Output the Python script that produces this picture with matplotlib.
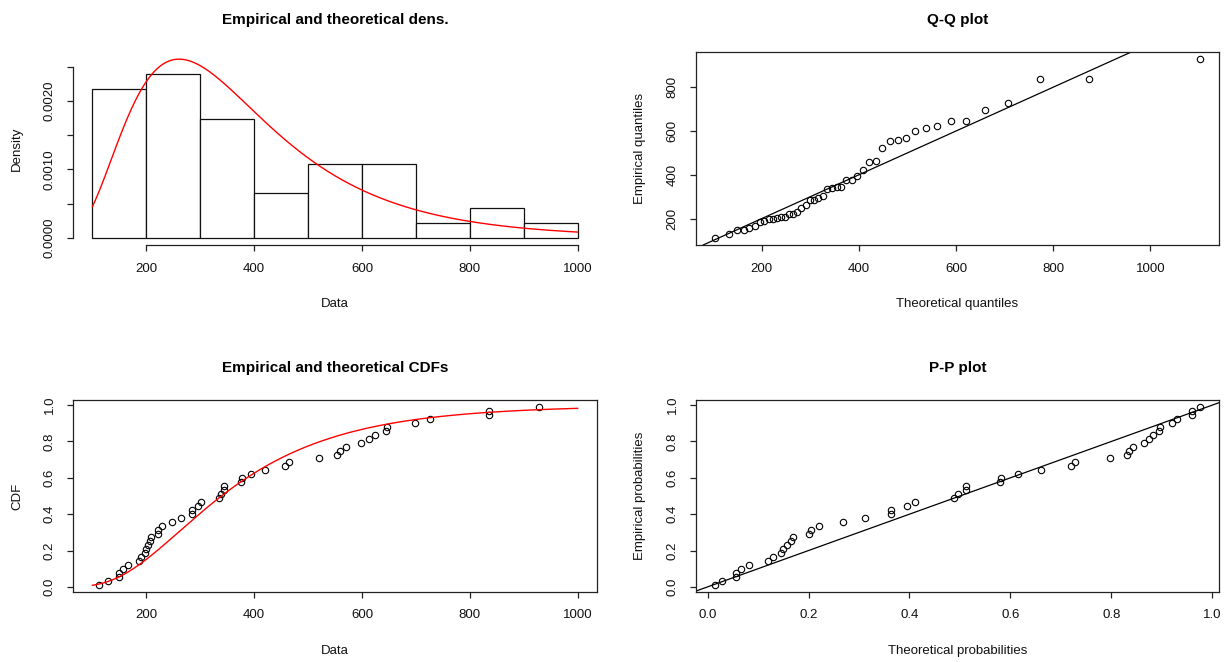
import math
import numpy as np
import matplotlib
matplotlib.use("Agg")
import matplotlib.pyplot as plt

# ---- data -----------------------------------------------------------------
DATA = [112, 128, 150, 150, 157, 166, 186, 190, 197, 199,
        203, 206, 208, 221, 222, 229, 247, 264, 284, 284,
        296, 302, 334, 338, 345, 345, 376, 377, 394, 420,
        458, 464, 521, 554, 560, 570, 598, 613, 624, 644,
        647, 698, 726, 836, 836, 928]
BREAKS = [100, 200, 300, 400, 500, 600, 700, 800, 900, 1000]
MEANLOG = 5.827   # fitted log-normal parameters
SDLOG = 0.513

TITLES = ["Empirical and theoretical dens.", "Q-Q plot",
          "Empirical and theoretical CDFs", "P-P plot"]
XLABELS = ["Data", "Theoretical quantiles", "Data", "Theoretical probabilities"]
YLABELS = ["Density", "Empirical quantiles", "CDF", "Empirical probabilities"]

plt.rcParams['font.family'] = ['Liberation Sans', 'DejaVu Sans']

# ---- helpers ---------------------------------------------------------------
_erf = np.vectorize(math.erf)


def norm_cdf(z):
    return 0.5 * (1.0 + _erf(np.asarray(z) / math.sqrt(2.0)))


_zgrid = np.linspace(-8, 8, 40001)
_cgrid = norm_cdf(_zgrid)


def norm_ppf(p):
    return np.interp(p, _cgrid, _zgrid)


def lnorm_pdf(x):
    x = np.asarray(x, dtype=float)
    z = (np.log(x) - MEANLOG) / SDLOG
    return np.exp(-0.5 * z * z) / (x * SDLOG * math.sqrt(2 * math.pi))


def lnorm_cdf(x):
    return norm_cdf((np.log(np.asarray(x, dtype=float)) - MEANLOG) / SDLOG)


def lnorm_q(p):
    return np.exp(MEANLOG + SDLOG * norm_ppf(p))


def rlim(lo, hi):
    d = (hi - lo) * 0.04
    return lo - d, hi + d


x = np.sort(np.array(DATA, dtype=float))
n = len(x)
obsp = (np.arange(1, n + 1) - 0.5) / n
theo_q = lnorm_q(obsp)
theo_p = lnorm_cdf(x)

# ---- figure ----------------------------------------------------------------
W, H = 1225, 662
fig = plt.figure(figsize=(W / 100, H / 100), dpi=100)
fig.patch.set_facecolor("white")


def rect(x0, x1, y0, y1):
    return [x0 / W, 1 - y1 / H, (x1 - x0) / W, (y1 - y0) / H]


L = (73, 597)
R = (696, 1219)
T = (52, 245)
B = (400, 592)
ax1 = fig.add_axes(rect(*L, *T))
ax2 = fig.add_axes(rect(*R, *T))
ax3 = fig.add_axes(rect(*L, *B))
ax4 = fig.add_axes(rect(*R, *B))
axes = [ax1, ax2, ax3, ax4]

TICKFS = 9.5
LABFS = 9.5


def r_style(ax, i, box=True):
    w_px = ax.get_position().width * W
    h_px = ax.get_position().height * H
    for s in ax.spines.values():
        s.set_linewidth(0.9)
        s.set_color("#222222")
        s.set_visible(box)
    ax.tick_params(direction="out", length=4.6, width=0.9, colors="#222222",
                   labelsize=TICKFS, pad=8, labelcolor="#111111")
    for lab in ax.get_yticklabels():
        lab.set_rotation(90)
        lab.set_va("center")
    ax.set_xlabel(XLABELS[i], fontsize=LABFS, color="#111111")
    ax.set_ylabel(YLABELS[i], fontsize=LABFS, color="#111111")
    ax.xaxis.set_label_coords(0.5, -59 / h_px)
    ax.xaxis.label.set_va("center")
    ax.yaxis.set_label_coords(-56 / w_px, 0.5)
    ax.yaxis.label.set_va("center")
    ax.yaxis.label.set_ha("center")
    cx = (ax.get_position().x0 + ax.get_position().x1) / 2
    ty = ax.get_position().y1 + 32 / H
    fig.text(cx, ty, TITLES[i], ha="center", va="center", fontsize=11,
             fontweight="bold", color="black")


# Panel 1: histogram + density
ax1.hist(x, bins=BREAKS, density=True, facecolor="white", edgecolor="#111111",
         linewidth=0.9)
xs = np.linspace(BREAKS[0], BREAKS[-1], 400)
dens = lnorm_pdf(xs)
ax1.plot(xs, dens, color="red", lw=1.0)
counts, _ = np.histogram(x, bins=BREAKS, density=True)
ymax = max(dens.max(), counts.max())
ax1.set_xlim(*rlim(BREAKS[0], BREAKS[-1]))
ax1.set_ylim(*rlim(0, ymax))
ax1.set_xticks([200, 400, 600, 800, 1000])
yt = [0, 0.0005, 0.0010, 0.0015, 0.0020, 0.0025]
ax1.set_yticks(yt)
ax1.set_yticklabels(["0.0000", "", "0.0010", "", "0.0020", ""])
r_style(ax1, 0, box=False)
ax1.spines["left"].set_visible(True)
ax1.spines["bottom"].set_visible(True)
ax1.spines["left"].set_bounds(0, 0.0025)
ax1.spines["bottom"].set_bounds(200, 1000)

# Panel 2: Q-Q plot
ax2.plot(theo_q, x, "o", ms=4.6, mfc="none", mec="black", mew=0.8)
ax2.axline((0, 0), slope=1, color="black", lw=0.9)
ax2.set_xlim(*rlim(theo_q.min(), theo_q.max()))
ax2.set_ylim(*rlim(x.min(), x.max()))
ax2.set_xticks([200, 400, 600, 800, 1000])
ax2.set_yticks([200, 400, 600, 800])
r_style(ax2, 1)

# Panel 3: CDFs
ax3.plot(x, obsp, "o", ms=4.6, mfc="none", mec="black", mew=0.8)
ax3.plot(xs, lnorm_cdf(xs), color="red", lw=1.0)
ax3.set_xlim(*rlim(BREAKS[0], BREAKS[-1]))
ax3.set_ylim(*rlim(obsp.min(), obsp.max()))
ax3.set_xticks([200, 400, 600, 800, 1000])
ax3.set_yticks([0, 0.2, 0.4, 0.6, 0.8, 1.0])
ax3.set_yticklabels(["0.0", "0.2", "0.4", "0.6", "0.8", "1.0"])
r_style(ax3, 2)

# Panel 4: P-P plot
ax4.plot(theo_p, obsp, "o", ms=4.6, mfc="none", mec="black", mew=0.8)
ax4.axline((0, 0), slope=1, color="black", lw=0.9)
ax4.set_xlim(*rlim(theo_p.min(), theo_p.max()))
ax4.set_ylim(*rlim(obsp.min(), obsp.max()))
ticks01 = [0, 0.2, 0.4, 0.6, 0.8, 1.0]
ax4.set_xticks(ticks01)
ax4.set_xticklabels(["0.0", "0.2", "0.4", "0.6", "0.8", "1.0"])
ax4.set_yticks(ticks01)
ax4.set_yticklabels(["0.0", "0.2", "0.4", "0.6", "0.8", "1.0"])
r_style(ax4, 3)

fig.savefig("out.png", dpi=100, facecolor="white")
